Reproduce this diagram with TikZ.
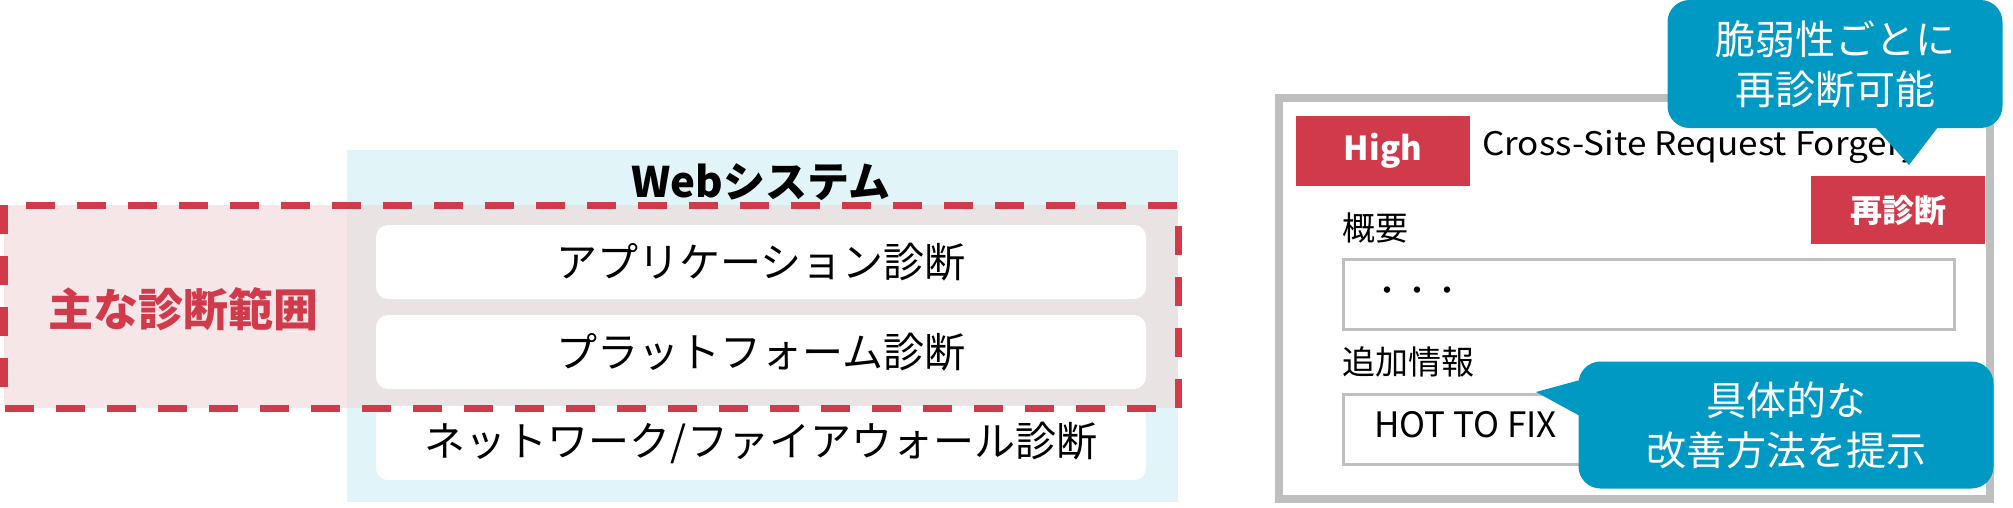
\documentclass[tikz,border=0pt]{standalone}
\usepackage{fontspec}
\setmainfont{Noto Sans CJK JP}
\newfontfamily\widefont[FakeStretch=1.08]{Noto Sans CJK JP}
\usetikzlibrary{positioning}
\definecolor{redc}{HTML}{D13A4B}
\definecolor{bluec}{HTML}{0099C4}
\definecolor{cyanbg}{HTML}{E1F5F8}
\definecolor{pinkbg}{HTML}{F7E6E7}
\definecolor{mixbg}{HTML}{EAE3E4}
\definecolor{grayc}{HTML}{BFBFBF}
\tikzset{
  layerbox/.style={fill=white,rounded corners=12pt,minimum width=770pt,minimum height=74pt,inner sep=0pt,font=\fontsize{41}{48}\selectfont},
  redbtn/.style={fill=redc,text=white,inner sep=0pt,font=\fontsize{33}{38}\selectfont\bfseries},
  fieldbox/.style={draw=grayc,line width=3pt,fill=white,minimum width=611pt,minimum height=70pt,inner sep=0pt},
  lbl/.style={inner sep=0pt,font=\fontsize{33}{38}\selectfont},
  callout/.style={fill=bluec,rounded corners=22pt,text=white,align=center,inner sep=0pt,font=\fontsize{40}{50}\selectfont},
}
\begin{document}
\begin{tikzpicture}[x=1pt,y=-1pt]
\useasboundingbox (0,0) rectangle (2013,507);
% Web system background
\fill[cyanbg] (347,150) rectangle (1178,502);
\node[inner sep=0pt,font=\fontsize{42}{48}\selectfont\bfseries] (web) at (761,182) {Webシステム};
% scope fill
\fill[pinkbg] (4,205) rectangle (347,408);
\fill[mixbg] (347,205) rectangle (1178,408);
% layer boxes
\node[layerbox] (app) at (761,262) {アプリケーション診断};
\node[layerbox] (plat) at (761,352) {プラットフォーム診断};
\node[layerbox] (net) at (761,443) {ネットワーク/ファイアウォール診断};
% dashed frame
\draw[redc,line width=7pt,dash pattern=on 29pt off 22pt] (4,205) rectangle (1178,408);
\node[inner sep=0pt,text=redc,font=\fontsize{45}{50}\selectfont\bfseries] (scope) at (183,309) {主な診断範囲};
% right panel
\draw[grayc,line width=8pt,fill=white] (1279,98) rectangle (1990,499);
\node[redbtn,minimum width=174pt,minimum height=70pt] (high) at (1383,151) {High};
\node[inner sep=0pt,anchor=base west,font=\widefont\fontsize{32.5}{40}\selectfont] (title) at (1482,155) {Cross-Site Request Forgery};
\node[redbtn,minimum width=174pt,minimum height=68pt,font=\fontsize{32}{38}\selectfont\bfseries] (re) at (1898,210) {再診断};
\node[lbl,anchor=west] (gaiyo) at (1342,228) {概要};
\node[fieldbox,anchor=north west] (f1) at (1342,258) {};
\node[anchor=west,inner sep=0pt,font=\fontsize{30}{36}\selectfont] (dots) at ([xshift=30pt]f1.west) {・・・};
\node[lbl,anchor=west] (tsuika) at (1342,362) {追加情報};
\node[fieldbox,anchor=north west] (f2) at (1342,393) {};
\node[anchor=base west,inner sep=0pt,font=\fontsize{35}{42}\selectfont] (fix) at (1374,437) {HOT TO FIX};
% callout 1
\node[callout,minimum width=335pt,minimum height=128pt] (c1) at (1835,64) {脆弱性ごとに\\再診断可能};
\coordinate (t1) at (1909,165);
\fill[bluec] (1875,127) -- (t1) -- (1938,127) -- cycle;
% callout 2
\node[callout,minimum width=415pt,minimum height=127pt] (c2) at (1786,425) {具体的な\\改善方法を提示};
\coordinate (t2) at (1536,392);
\fill[bluec] (1580,380) -- (t2) -- (1580,416) -- cycle;
\end{tikzpicture}
\end{document}
